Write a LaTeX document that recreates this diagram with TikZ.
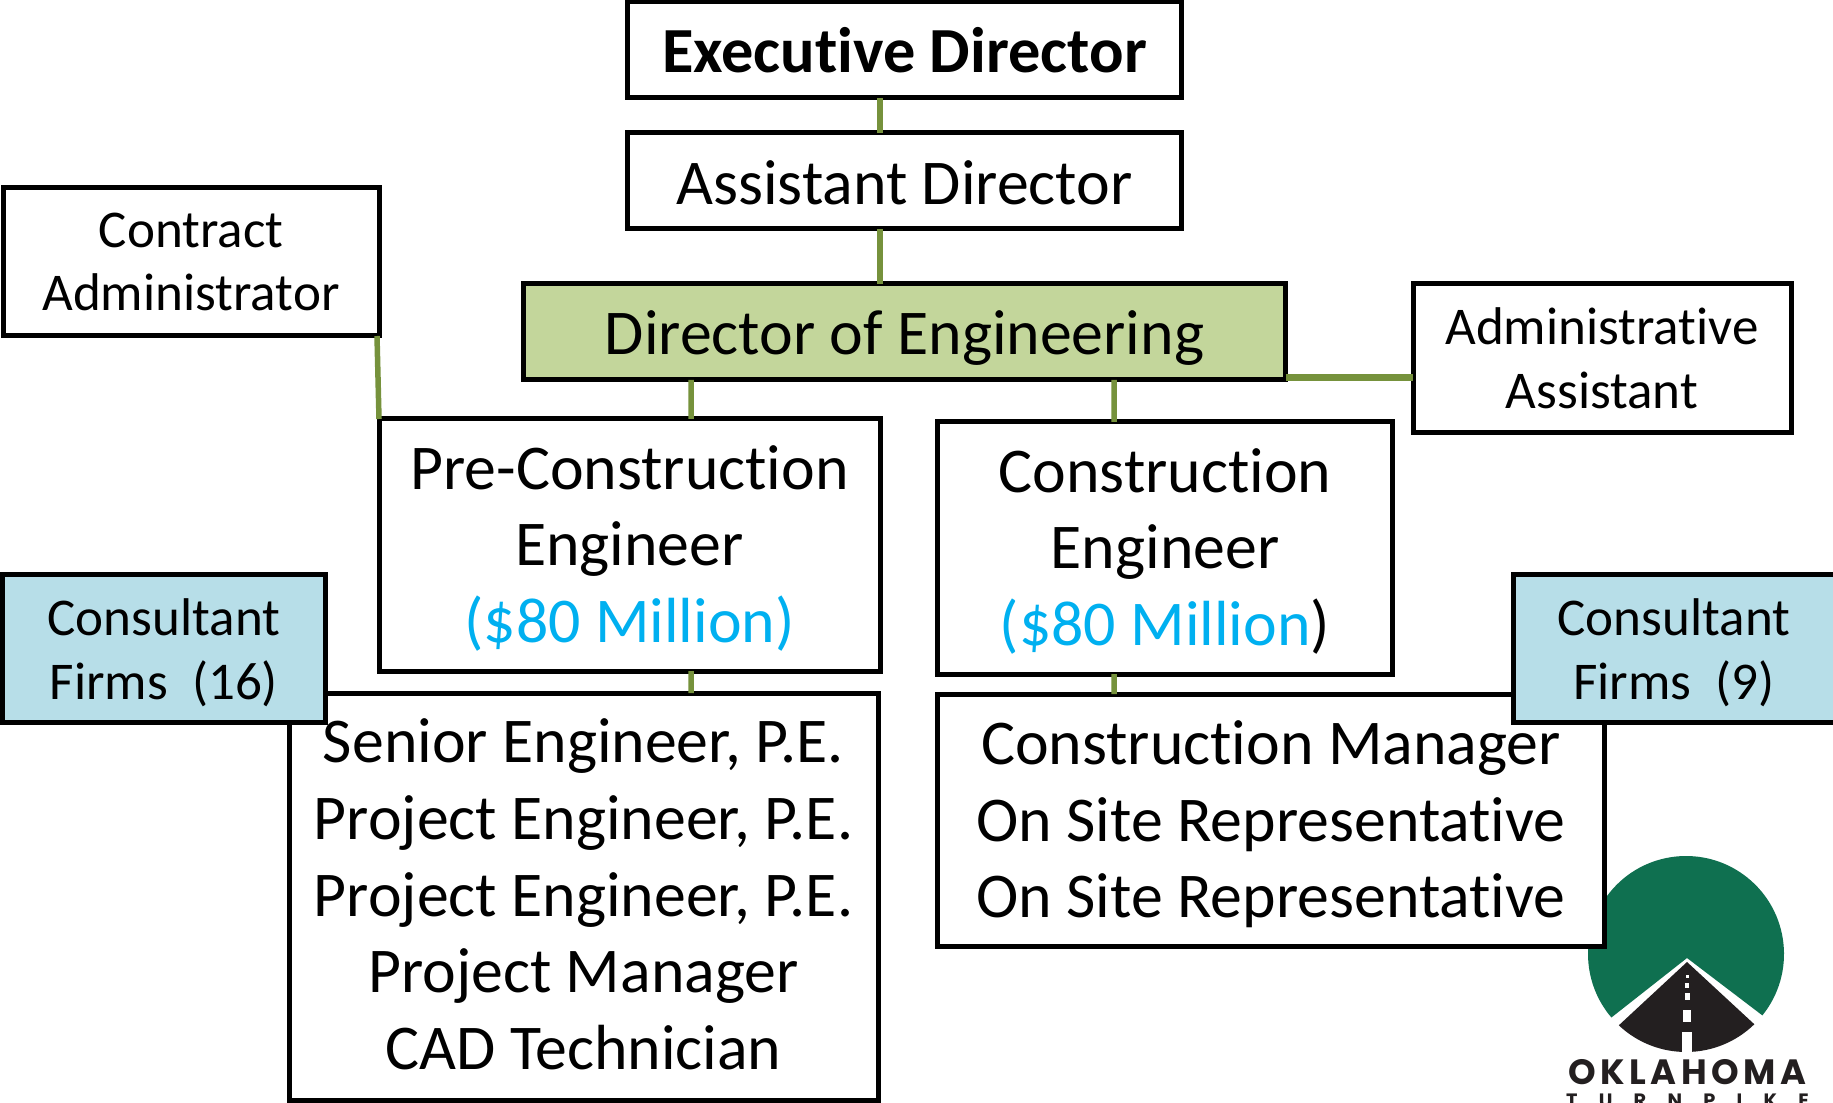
\documentclass[tikz,border=0pt]{standalone}
\usepackage{fontspec}
\setmainfont[Ligatures=NoCommon]{Carlito}
\newfontfamily\logofont{Poppins}
\usetikzlibrary{positioning}
\definecolor{directorfill}{HTML}{C3D69B}
\definecolor{firmfill}{HTML}{B7DEE8}
\definecolor{linkgreen}{HTML}{76923C}
\definecolor{budgetblue}{HTML}{00B0F0}
\definecolor{logogreen}{HTML}{0F7050}
\definecolor{roadblack}{HTML}{231F20}
\newcommand{\budget}{\textcolor{budgetblue}}
\newcommand{\firstline}[1]{\rule{0pt}{#1}}

\begin{document}
\begin{tikzpicture}[
      % GLOBAL CFG
      font=\fontsize{36.3}{43.6}\selectfont,
      % Styles
      post/.style={% For the staff boxes
        rectangle,
        draw=black,
        line width=0.1cm,
        fill=white,
        align=center,
        inner sep=0pt,
        outer sep=0pt
      },
      smallpost/.style={% For the boxes with two short lines
        post,
        font=\fontsize{30.2}{36.2}\selectfont
      },
      link/.style={% Connectors
        draw=linkgreen,
        line width=0.11cm
      }
      ]
      \useasboundingbox (0,0) rectangle (36.66,22.04);

      % Logo first, the manager box lies over it
      \fill [logogreen] (33.72,2.96) ++(-38.8:1.96) arc (-38.8:220.4:1.96) -- (33.74,2.88) -- cycle;
      \fill [roadblack] (33.72,2.96) ++(226.7:1.96) arc (226.7:314.2:1.96) -- (33.74,2.8) -- cycle;
      \foreach \top/\bot/\halfw in {1.4/0.96/0.1, 1.84/1.6/0.08, 2.18/2.04/0.05, 2.38/2.28/0.04, 2.54/2.48/0.03}
        \fill [white] (33.74-\halfw,\bot) rectangle (33.74+\halfw,\top);
      \node [text=roadblack, inner sep=0pt] (logoname) at (33.75,0.6)
        {\fontsize{20}{20}\logofont\addfontfeature{LetterSpace=13}\bfseries OKLAHOMA};
      \node [text=roadblack, inner sep=0pt] (logosub) at (33.75,0.03)
        {\fontsize{11}{11}\logofont\addfontfeature{LetterSpace=110}\bfseries TURNPIKE};

      % The boxes
      \node [post, minimum width=11.08cm, minimum height=1.92cm, font=\fontsize{36.6}{43.6}\selectfont\bfseries] (execdir) at (18.09,21.04) {Executive Director};
      \node [post, minimum width=11.08cm, minimum height=1.92cm] (asstdir) at (18.09,18.42) {\firstline{26.5pt}Assistant Director};
      \node [post, minimum width=15.24cm, minimum height=1.92cm, fill=directorfill] (directoreng) at (18.09,15.4) {\firstline{32pt}Director of Engineering};
      \node [smallpost, minimum width=7.52cm, minimum height=2.96cm] (contractadmin) at (3.82,16.8) {Contract\\Administrator};
      \node [smallpost, minimum width=7.56cm, minimum height=2.98cm] (adminasst) at (32.04,14.87) {Administrative\\Assistant};
      \node [post, minimum width=10.02cm, minimum height=5.04cm] (preeng) at (12.59,11.14) {\firstline{28.7pt}Pre-Construction\\Engineer\\\budget{(\$80 Million)}};
      \node [post, minimum width=9.11cm, minimum height=5.04cm] (conseng) at (23.3,11.08) {\firstline{28.7pt}Construction\\Engineer\\\budget{(\$80 Million})};
      \node [post, minimum width=11.78cm, minimum height=8.14cm] (prestaff) at (11.67,4.11) {Senior Engineer, P.E.\\Project Engineer, P.E.\\Project Engineer, P.E.\\Project Manager\\\rule[-2.6pt]{0pt}{0pt}CAD Technician};
      \node [post, minimum width=13.35cm, minimum height=5.04cm] (consstaff) at (25.42,5.64) {\firstline{30pt}Construction Manager\\On Site Representative\\On Site Representative};
      \node [smallpost, fill=firmfill, minimum width=6.44cm, minimum height=2.97cm] (firmsleft) at (3.28,9.07) {\firstline{26pt}Consultant\\Firms\ \ (16)};
      \node [smallpost, fill=firmfill, minimum width=6.44cm, minimum height=2.97cm] (firmsright) at (33.48,9.07) {\firstline{26pt}Consultant\\Firms\ \ (9)};

      % Connectors
      \draw [link] ([xshift=-0.49cm]execdir.south) -- ([xshift=-0.49cm]asstdir.north);
      \draw [link] ([xshift=-0.49cm]asstdir.south) -- ([xshift=-0.49cm]directoreng.north);
      \draw [link] ([xshift=-4.27cm]directoreng.south) -- ([xshift=1.23cm]preeng.north);
      \draw [link] ([xshift=4.19cm]directoreng.south) -- ([xshift=-1.02cm]conseng.north);
      \draw [link] ([xshift=1.23cm]preeng.south) -- ([xshift=2.15cm]prestaff.north);
      \draw [link] ([xshift=-1.02cm]conseng.south) -- ([xshift=-3.14cm]consstaff.north);
      \draw [link] ([xshift=-0.04cm]contractadmin.south east) -- (preeng.north west);
      \coordinate (adminjoin) at ([yshift=0.04cm]directoreng.south east);
      \draw [link, line width=0.14cm] (adminjoin) -- (adminjoin -| adminasst.west);
    \end{tikzpicture}
\end{document}
